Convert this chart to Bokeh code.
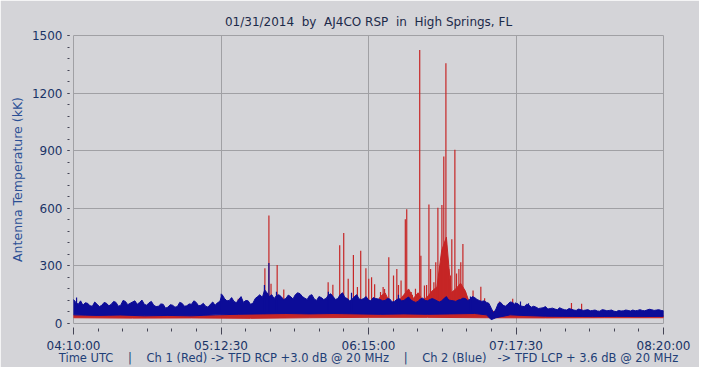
from bokeh.plotting import figure
from bokeh.models import Range1d, FixedTicker
from bokeh.embed import file_html
from bokeh.resources import INLINE

# ---------------- data (minutes after 04:10:00 UTC, values in kK) ----------------
x_tick_pos = [0, 62.5, 125, 187.5, 250]
x_tick_labels = ["04:10:00", "05:12:30", "06:15:00", "07:17:30", "08:20:00"]
y_tick_pos = [0, 300, 600, 900, 1200, 1500]

# Ch 2 (Blue) upper envelope, every minute
blue_hi_t = list(range(0, 251))
blue_hi = [125, 110, 100, 118, 95, 108, 105, 92, 90, 112, 100,
           88, 95, 110, 105, 92, 100, 115, 110, 90, 95,
           120, 115, 98, 105, 112, 118, 100, 110, 122, 100, 95, 108, 115, 95,
           88, 90, 102, 100, 80, 85, 98, 95, 85, 88, 110, 105, 90, 92, 102, 100, 118, 110,
           92, 95, 105, 90, 85, 100, 112, 95, 108, 115,
           150, 130, 118, 120, 135, 115, 108, 125, 140, 110, 120, 118, 100, 105,
           130, 140, 150, 135, 175, 160, 140, 150, 130, 145,
           150, 140, 125, 130, 148, 140, 128, 150, 160, 155, 140, 132, 125, 145, 150, 128,
           120, 140, 135, 125, 130, 148, 155, 140,
           125, 130, 150, 160, 135, 130, 118, 125, 140, 150, 128, 125, 130, 140, 122, 118,
           135, 130, 128, 125,
           118, 120, 130, 128, 112, 115, 125, 130, 118, 120, 130, 138, 122, 115, 110, 115,
           128, 132, 120, 118, 125, 130, 125, 118, 112, 118, 130, 140, 122, 120,
           118, 115, 122, 125, 132, 130, 120, 125, 140, 135, 125, 120, 115, 118, 110, 105,
           80, 55, 75, 105, 110, 95, 90, 100, 112, 110, 100, 105, 95, 90, 88, 100, 95, 85,
           90, 85, 78, 80, 82, 88, 75, 78, 80, 75, 72, 82, 76, 72, 70, 78, 74, 70, 68, 75,
           72, 68, 70, 72, 66, 68, 70, 65, 64, 72, 70, 66, 68, 70, 64, 62, 68, 65, 66, 70,
           68, 65, 70, 66, 68, 72, 68, 66, 70, 74, 72, 68, 70, 72, 68, 66]

# Ch 2 (Blue) lower envelope
blue_lo_t = [0, 10, 20, 30, 40, 50, 60, 70, 80, 90, 100, 110, 120, 130, 140,
             150, 160, 170, 175, 177, 179, 185, 190, 200, 210, 220, 230, 240, 250]
blue_lo = [45, 42, 44, 40, 42, 40, 45, 48, 50, 52, 50, 52, 50, 48, 50,
           48, 50, 52, 45, 20, 30, 45, 42, 38, 37, 36, 37, 36, 37]

# Ch 2 (Blue) isolated spikes
blue_spike_t = [1.3, 62.6, 80.9, 82.8, 86.0, 108.0, 117.8, 137.7, 168.2, 187.3, 189.4, 192.8]
blue_spike_v = [135, 155, 200, 315, 165, 165, 160, 150, 140, 110, 115, 105]

# Ch 1 (Red) upper envelope of the dense trace
red_hi_t = (list(range(0, 106, 5)) + list(range(108, 177, 2)) + list(range(180, 251, 5)))
red_hi = [44, 42, 43, 41, 44, 42, 40, 41, 42, 40, 43, 41, 42, 45, 47, 49, 52, 56, 55, 52, 56, 58,
          80, 70, 90, 120, 85, 100, 75, 110, 90, 80, 95, 140, 160, 110, 95, 120, 150, 180,
          130, 160, 120, 140, 170, 190, 380, 450, 160, 180, 210, 170, 100, 90, 110, 80, 70,
          55, 48, 45, 42, 40, 40, 40, 40, 40, 40, 40, 40, 40, 40, 40]

# Ch 1 (Red) lower envelope
red_lo_t = [0, 25, 50, 75, 100, 125, 150, 175, 200, 225, 250]
red_lo = [30, 28, 29, 27, 30, 32, 32, 30, 29, 30, 30]

# Ch 1 (Red) spikes
red_spike_t = [69.8, 81.1, 82.8, 83.7, 86.3, 89.1, 107.9, 109.9, 112.8, 114.5, 116.4, 118.6,
               120.3, 121.7, 123.9, 125.1, 126.3, 127.6, 130.1, 131.2, 131.8, 133.6, 135.6,
               137.0, 137.7, 138.8, 140.6, 141.2, 143.1, 143.6, 144.9, 146.7, 147.2, 148.7,
               149.6, 150.6, 151.3, 152.7, 153.5, 154.4, 155.1, 156.1, 156.9, 157.8, 159.0,
               159.7, 160.3, 161.6, 162.3, 163.3, 164.1, 165.0, 166.1, 169.3, 172.6, 174.2,
               180.5, 181.8, 184.7, 186.1, 211.0, 215.3]
red_spike_v = [129, 288, 563, 207, 305, 177, 215, 202, 408, 472, 233, 357,
               190, 379, 288, 233, 241, 204, 164, 190, 180, 345, 250,
               284, 200, 224, 543, 595, 164, 150, 181, 1425, 353, 198,
               200, 620, 284, 215, 319, 603, 300, 617, 870, 1356, 284,
               250, 439, 905, 260, 284, 319, 414, 164, 172, 192, 132,
               115, 88, 103, 129, 107, 103]

NB = "\u00a0"
title_text = f"01/31/2014{NB*2}by{NB*2}AJ4CO RSP{NB*2}in{NB*2}High Springs, FL"
footer_text = (f"Time UTC{NB*4}|{NB*4}Ch 1 (Red) -> TFD RCP +3.0 dB @ 20 MHz{NB*4}|{NB*4}"
               f"Ch 2 (Blue){NB*2} -> TFD LCP + 3.6 dB @ 20 MHz")

# ---------------- styling ----------------
BG = "#d4d4d8"
GRID = "#a0a0a4"
RED = "#c62626"
BLUE = "#0c0c98"
FONT = "DejaVu Sans"

p = figure(width=699, height=367, output_backend="svg", toolbar_location=None,
           x_range=Range1d(0, 250), y_range=Range1d(0, 1500), title=title_text)
p.min_border_left = 73
p.min_border_right = 36
p.min_border_top = 35
p.min_border_bottom = 42
p.background_fill_color = BG
p.border_fill_color = BG
p.outline_line_color = GRID

p.title.align = "center"
p.title.text_font = FONT
p.title.text_font_size = "12px"
p.title.text_font_style = "normal"
p.title.text_color = "#1c2a4a"
p.title.standoff = 13

# red trace
p.patch(red_hi_t + red_lo_t[::-1], red_hi + red_lo[::-1], color=RED, line_width=1)
p.segment(x0=red_spike_t, y0=[40] * len(red_spike_t), x1=red_spike_t, y1=red_spike_v,
          line_color=RED, line_width=1.2)
# blue trace
p.patch(blue_hi_t + blue_lo_t[::-1], blue_hi + blue_lo[::-1], color=BLUE, line_width=1)
p.segment(x0=blue_spike_t, y0=[60] * len(blue_spike_t), x1=blue_spike_t, y1=blue_spike_v,
          line_color=BLUE, line_width=1.2)

# axes
xminor = [i * 62.5 / 6 for i in range(25)]
yminor = list(range(0, 1501, 60))
p.xaxis.ticker = FixedTicker(ticks=x_tick_pos, minor_ticks=xminor)
p.xaxis.major_label_overrides = {t: l for t, l in zip(x_tick_pos, x_tick_labels)}
p.yaxis.ticker = FixedTicker(ticks=y_tick_pos, minor_ticks=yminor)
p.xgrid.ticker = FixedTicker(ticks=x_tick_pos)
p.ygrid.ticker = FixedTicker(ticks=y_tick_pos)
p.grid.grid_line_color = GRID
p.grid.grid_line_width = 1

for ax in (p.xaxis[0], p.yaxis[0]):
    ax.axis_line_color = None
    ax.major_tick_line_color = "#444455"
    ax.minor_tick_line_color = "#444455"
    ax.major_label_text_font = FONT
    ax.major_label_text_color = "#1a3366"
    ax.axis_label_text_font = FONT
    ax.axis_label_text_font_style = "normal"

p.xaxis.major_label_text_font_size = "12px"
p.yaxis.major_label_text_font_size = "12px"

p.xaxis.major_tick_in = -4
p.xaxis.major_tick_out = 11
p.xaxis.minor_tick_in = -5
p.xaxis.minor_tick_out = 8
p.xaxis.major_label_standoff = 4
p.xaxis.axis_label = footer_text
p.xaxis.axis_label_text_font_size = "11.5px"
p.xaxis.axis_label_text_color = "#1f3f77"
p.xaxis.axis_label_standoff = -5

p.yaxis.major_tick_in = -4
p.yaxis.major_tick_out = 6
p.yaxis.minor_tick_in = -4
p.yaxis.minor_tick_out = 6
p.yaxis.major_label_standoff = 5
p.yaxis.axis_label = "Antenna Temperature (kK)"
p.yaxis.axis_label_text_font_size = "12.5px"
p.yaxis.axis_label_text_color = "#2a4f95"
p.yaxis.axis_label_standoff = 4

open("out.html", "w").write(file_html(p, INLINE))
